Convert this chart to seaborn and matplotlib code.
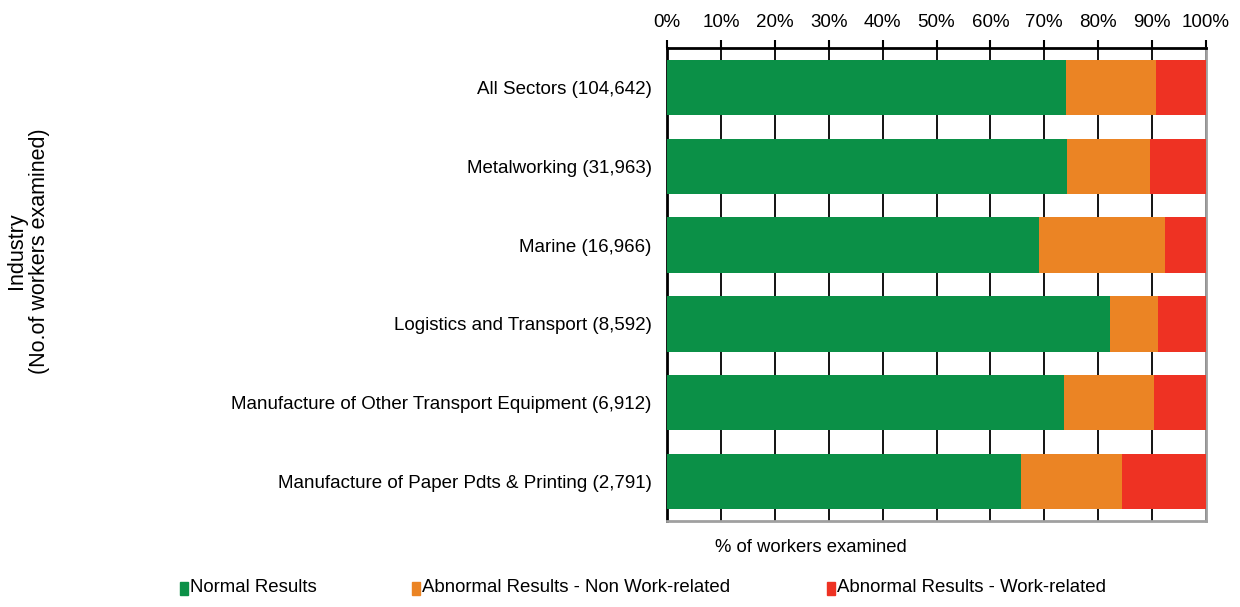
import matplotlib
matplotlib.use("Agg")
import matplotlib.pyplot as plt
import seaborn as sns
import numpy as np
import pandas as pd
from matplotlib.patches import Rectangle

categories = ["All Sectors (104,642)", "Metalworking (31,963)", "Marine (16,966)",
              "Logistics and Transport (8,592)",
              "Manufacture of Other Transport Equipment (6,912)",
              "Manufacture of Paper Pdts & Printing (2,791)"]
normal = [74.0, 74.3, 69.1, 82.2, 73.7, 65.6]
non_work = [16.7, 15.3, 23.3, 8.9, 16.7, 18.9]
work = [9.3, 10.4, 7.6, 8.9, 9.6, 15.5]
series_names = ["Normal Results", "Abnormal Results - Non Work-related", "Abnormal Results - Work-related"]
colors = ["#0B9047", "#EB8424", "#EE3223"]
xticks = [0, 10, 20, 30, 40, 50, 60, 70, 80, 90, 100]

sns.set_theme(style="white")
plt.rcParams['font.family'] = ['Liberation Sans', 'DejaVu Sans']
plt.rcParams['text.color'] = 'black'
plt.rcParams['xtick.color'] = 'black'
plt.rcParams['ytick.color'] = 'black'

df = pd.DataFrame({"cat": categories, "n": normal, "nw": non_work, "w": work})
df["c1"] = df["n"]
df["c2"] = df["n"] + df["nw"]
df["c3"] = df["n"] + df["nw"] + df["w"]

fig = plt.figure(figsize=(12.4, 6.07), dpi=100)
ax = fig.add_axes([667/1240, 1-521/607, (1206-667)/1240, (521-48)/607])

for col, c in zip(["c3", "c2", "c1"], colors[::-1]):
    sns.barplot(data=df, x=col, y="cat", orient="h", color=c, width=0.70,
                saturation=1, ax=ax, zorder=3, edgecolor="none", linewidth=0)

ax.set_xlim(0, 100)
ax.set_ylim(5.5, -0.5)
ax.set_xticks(xticks)
ax.set_xticklabels([f"{t}%" for t in xticks], fontsize=13.5)
ax.xaxis.tick_top()
ax.tick_params(axis="x", which="major", direction="out", length=6, width=1.5, color="black", pad=6)
ax.grid(axis="x", color="black", linewidth=1.3, zorder=0)
ax.grid(axis="y", visible=False)
ax.set_axisbelow(True)

ax.set_yticks(range(len(categories)))
ax.set_yticklabels(categories, fontsize=13.5)
ax.set_yticks(np.arange(-0.5, len(categories), 1), minor=True)
ax.tick_params(axis="y", which="major", length=0, pad=11)
ax.tick_params(axis="y", which="minor", direction="out", length=4, width=1.5, color="black")
ax.set_xlabel("")
ax.set_ylabel("")

for s in ["top", "left"]:
    ax.spines[s].set_color("black")
    ax.spines[s].set_linewidth(2)
for s in ["right", "bottom"]:
    ax.spines[s].set_color("#A0A0A0")
    ax.spines[s].set_linewidth(2)

fig.text(28/1240, 1-251/607, "Industry\n(No.of workers examined)", rotation=90,
         ha="center", va="center", fontsize=15.5, family=["Liberation Sans", "DejaVu Sans"],
         linespacing=1.15)
fig.text(811/1240, 1-548/607, "% of workers examined", ha="center", va="center", fontsize=13.3)

legend_x = [180, 412, 827]
for lx, name, c in zip(legend_x, series_names, colors):
    fig.patches.append(Rectangle((lx/1240, 1-595/607), 8/1240, 13/607,
                                 transform=fig.transFigure, color=c, figure=fig))
    fig.text((lx+10)/1240, 1-588/607, name, ha="left", va="center", fontsize=13.4)

fig.savefig("out.png", dpi=100)
